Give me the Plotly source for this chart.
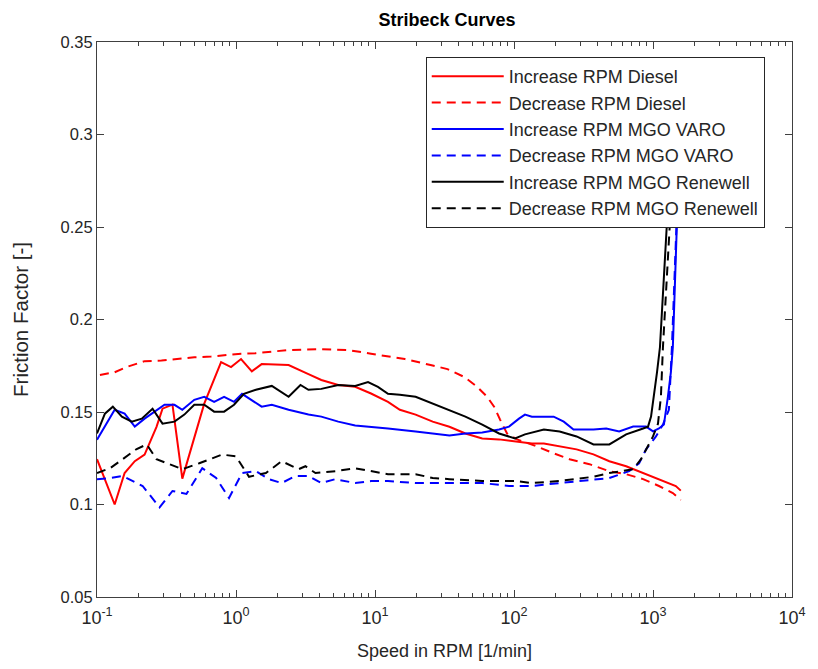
import plotly.graph_objects as go

# ---------------- data ----------------
inc_diesel_rpm = [0.1, 0.134, 0.158, 0.187, 0.220, 0.268, 0.296, 0.349, 0.411, 0.477, 0.591, 0.781,
                  0.921, 1.087, 1.30, 1.53, 2.39, 3.32, 4.11, 5.44, 7.20, 9.36, 12.4, 15.1, 19.6,
                  26.0, 34.3, 44.7, 59.1, 78.1, 101.7, 134.5, 164, 213, 282, 373, 485, 641, 849,
                  1104, 1459, 1585]
inc_diesel_ff = [0.1245, 0.100, 0.117, 0.1234, 0.127, 0.142, 0.1518, 0.154, 0.114, 0.131, 0.1545, 0.177,
                 0.1743, 0.1786, 0.172, 0.1759, 0.1754, 0.1705, 0.1673, 0.1646, 0.1636, 0.160, 0.1555,
                 0.1512, 0.1486, 0.1448, 0.142, 0.1384, 0.1357, 0.1352, 0.1341, 0.133, 0.133, 0.1314,
                 0.1298, 0.1271, 0.1234, 0.1207, 0.117, 0.1137, 0.110, 0.1075]

dec_diesel_rpm = [0.105, 0.134, 0.166, 0.220, 0.291, 0.379, 0.501, 0.663, 0.862, 1.087, 1.39, 2.39,
                  4.11, 6.41, 9.36, 16.4, 25.1, 33.2, 44.0, 54.4, 64.1, 71.9, 79.4, 89.1, 105, 146,
                  193, 251, 349, 485, 641, 849, 1104, 1389, 1585]
dec_diesel_ff = [0.170, 0.1715, 0.1745, 0.1775, 0.1778, 0.1786, 0.1796, 0.180, 0.181, 0.1815, 0.1818,
                 0.1835, 0.1840, 0.1835, 0.1815, 0.1786, 0.1754, 0.1732, 0.1689, 0.1636, 0.1582, 0.1529,
                 0.1459, 0.1384, 0.1352, 0.1314, 0.1277, 0.1245, 0.1218, 0.118, 0.1164, 0.1137, 0.110,
                 0.1062, 0.1025]

inc_varo_rpm = [0.1, 0.114, 0.134, 0.158, 0.187, 0.220, 0.260, 0.306, 0.361, 0.411, 0.501, 0.591,
                0.696, 0.821, 0.968, 1.105, 1.53, 1.81, 2.39, 3.32, 4.11, 5.44, 7.20, 9.36, 12.4,
                19.6, 34.3, 44.7, 59.1, 78.1, 92.1, 108.6, 119.9, 134.5, 193, 228, 268, 373, 461,
                571, 720, 891, 1000, 1104, 1198, 1280, 1345, 1389, 1560]
inc_varo_ff = [0.135, 0.1421, 0.1512, 0.1491, 0.1421, 0.1464, 0.1502, 0.1539, 0.1539, 0.1512, 0.1566,
               0.1582, 0.1555, 0.1582, 0.1555, 0.1598, 0.1529, 0.1539, 0.1512, 0.1486, 0.1475, 0.1448,
               0.1427, 0.1421, 0.1411, 0.1395, 0.1373, 0.1384, 0.1389, 0.1405, 0.1421, 0.1464, 0.1486,
               0.1475, 0.1475, 0.1448, 0.1405, 0.1405, 0.1411, 0.1395, 0.1421, 0.1421, 0.1395, 0.1411,
               0.1432, 0.1582, 0.1716, 0.185, 0.30]

dec_varo_rpm = [0.1, 0.124, 0.153, 0.213, 0.282, 0.349, 0.440, 0.572, 0.720, 0.891, 1.105, 1.39,
                1.72, 2.13, 2.68, 3.32, 4.11, 5.18, 7.20, 9.36, 12.4, 19.6, 34.3, 59.1, 92.1, 134.5,
                213, 373, 485, 674, 794, 891, 1050, 1179, 1301, 1368, 1560]
dec_varo_ff = [0.1137, 0.1143, 0.1154, 0.110, 0.0985, 0.1073, 0.1057, 0.1196, 0.1143, 0.1035, 0.117,
               0.118, 0.1137, 0.1116, 0.1154, 0.1154, 0.1116, 0.1137, 0.1116, 0.1127, 0.1127, 0.1116,
               0.1116, 0.1116, 0.110, 0.110, 0.1116, 0.1137, 0.1143, 0.118, 0.1223, 0.1298, 0.1368,
               0.1432, 0.1512, 0.185, 0.30]

inc_ren_rpm = [0.1, 0.114, 0.130, 0.151, 0.178, 0.210, 0.251, 0.296, 0.361, 0.425, 0.501, 0.591,
               0.696, 0.821, 0.968, 1.14, 1.39, 1.81, 2.39, 2.91, 3.32, 4.11, 5.44, 7.20, 8.91, 10.5,
               12.4, 15.1, 19.6, 26.0, 34.3, 44.7, 59.1, 78.1, 101.7, 119.9, 164, 213, 282, 373, 485,
               641, 849, 921, 968, 1016, 1069, 1122, 1368]
inc_ren_ff = [0.1384, 0.1491, 0.1529, 0.1475, 0.1448, 0.1464, 0.1518, 0.1437, 0.1448, 0.1486, 0.1539,
              0.1539, 0.1502, 0.1502, 0.1539, 0.1598, 0.162, 0.1641, 0.1582, 0.1646, 0.162, 0.1625,
              0.1646, 0.1641, 0.1662, 0.1636, 0.1598, 0.1593, 0.1582, 0.1545, 0.1512, 0.1475, 0.1432,
              0.1384, 0.1357, 0.1379, 0.1405, 0.1395, 0.1368, 0.1325, 0.1325, 0.1379, 0.1411, 0.1421,
              0.1475, 0.1582, 0.1716, 0.185, 0.30]

dec_ren_rpm = [0.1, 0.124, 0.153, 0.193, 0.228, 0.268, 0.332, 0.411, 0.544, 0.794, 1.0, 1.24, 1.64,
               2.13, 2.82, 3.16, 3.73, 5.18, 7.20, 9.36, 12.4, 19.6, 26.0, 34.3, 59.1, 101.7, 134.5,
               213, 373, 485, 720, 820, 921, 1000, 1086, 1140, 1179, 1436]
dec_ren_ff = [0.117, 0.1196, 0.1245, 0.130, 0.1325, 0.1245, 0.1218, 0.1191, 0.1223, 0.127, 0.126,
              0.115, 0.117, 0.1234, 0.1191, 0.1207, 0.117, 0.118, 0.1196, 0.118, 0.1164, 0.1164,
              0.1143, 0.1137, 0.1127, 0.1127, 0.1116, 0.1127, 0.115, 0.117, 0.1191, 0.1245, 0.1314,
              0.1368, 0.1437, 0.1582, 0.185, 0.30]

x_tick_vals = [0.1, 1, 10, 100, 1000, 10000]
x_tick_text = ["10<sup>-1</sup>", "10<sup>0</sup>", "10<sup>1</sup>", "10<sup>2</sup>",
               "10<sup>3</sup>", "10<sup>4</sup>"]
y_tick_vals = [0.05, 0.1, 0.15, 0.2, 0.25, 0.3, 0.35]
y_tick_text = ["0.05", "0.1", "0.15", "0.2", "0.25", "0.3", "0.35"]

series = [
    ("Increase RPM Diesel", inc_diesel_rpm, inc_diesel_ff, "#ff0000", "solid"),
    ("Decrease RPM Diesel", dec_diesel_rpm, dec_diesel_ff, "#ff0000", "9px,6px"),
    ("Increase RPM MGO VARO", inc_varo_rpm, inc_varo_ff, "#0000ff", "solid"),
    ("Decrease RPM MGO VARO", dec_varo_rpm, dec_varo_ff, "#0000ff", "9px,6px"),
    ("Increase RPM MGO Renewell", inc_ren_rpm, inc_ren_ff, "#000000", "solid"),
    ("Decrease RPM MGO Renewell", dec_ren_rpm, dec_ren_ff, "#000000", "9px,6px"),
]

fig = go.Figure()
for name, xs, ys, col, dash in series:
    fig.add_trace(go.Scatter(x=xs, y=ys, mode="lines", name=name,
                             line=dict(color=col, width=2, dash=dash)))

minor_vals = [m * 10 ** e for e in range(-1, 4) for m in range(2, 10)]
axis_col = "#404040"
font_fam = "Liberation Sans, Arial, sans-serif"

fig.update_layout(
    width=818, height=669,
    margin=dict(l=97, r=21, t=42, b=67),
    paper_bgcolor="white", plot_bgcolor="white",
    font=dict(family=font_fam, color="#262626"),
    title=dict(text="<b>Stribeck Curves</b>", x=(97 + 350) / 818, xanchor="center",
               y=1 - 20 / 669, yanchor="middle", font=dict(size=18, color="#000000")),
    showlegend=True,
    legend=dict(x=0.473, y=0.973, xanchor="left", yanchor="top",
                bgcolor="white", bordercolor="#262626", borderwidth=1,
                font=dict(size=18, color="#262626"), itemwidth=72,
                tracegroupgap=0),
)
fig.update_xaxes(type="log", range=[-1, 4], tickvals=x_tick_vals, ticktext=x_tick_text,
                 ticks="inside", ticklen=7, tickcolor=axis_col, showline=True, linecolor=axis_col,
                 linewidth=1, mirror="ticks", showgrid=False, zeroline=False,
                 tickfont=dict(size=18, color="#262626"), ticklabelstandoff=4,
                 minor=dict(tickvals=minor_vals, ticks="inside", ticklen=4, tickcolor=axis_col,
                            showgrid=False),
                 title=dict(text="Speed in RPM [1/min]", font=dict(size=18, color="#262626"),
                            standoff=17))
fig.update_yaxes(range=[0.05, 0.35], tickvals=y_tick_vals, ticktext=y_tick_text,
                 ticks="inside", ticklen=7, tickcolor=axis_col, showline=True, linecolor=axis_col,
                 linewidth=1, mirror="ticks", showgrid=False, zeroline=False,
                 tickfont=dict(size=16.5, color="#262626"),
                 title=dict(text="Friction Factor [-]", font=dict(size=20.5, color="#262626"),
                            standoff=26))

fig.write_html("out.html")
